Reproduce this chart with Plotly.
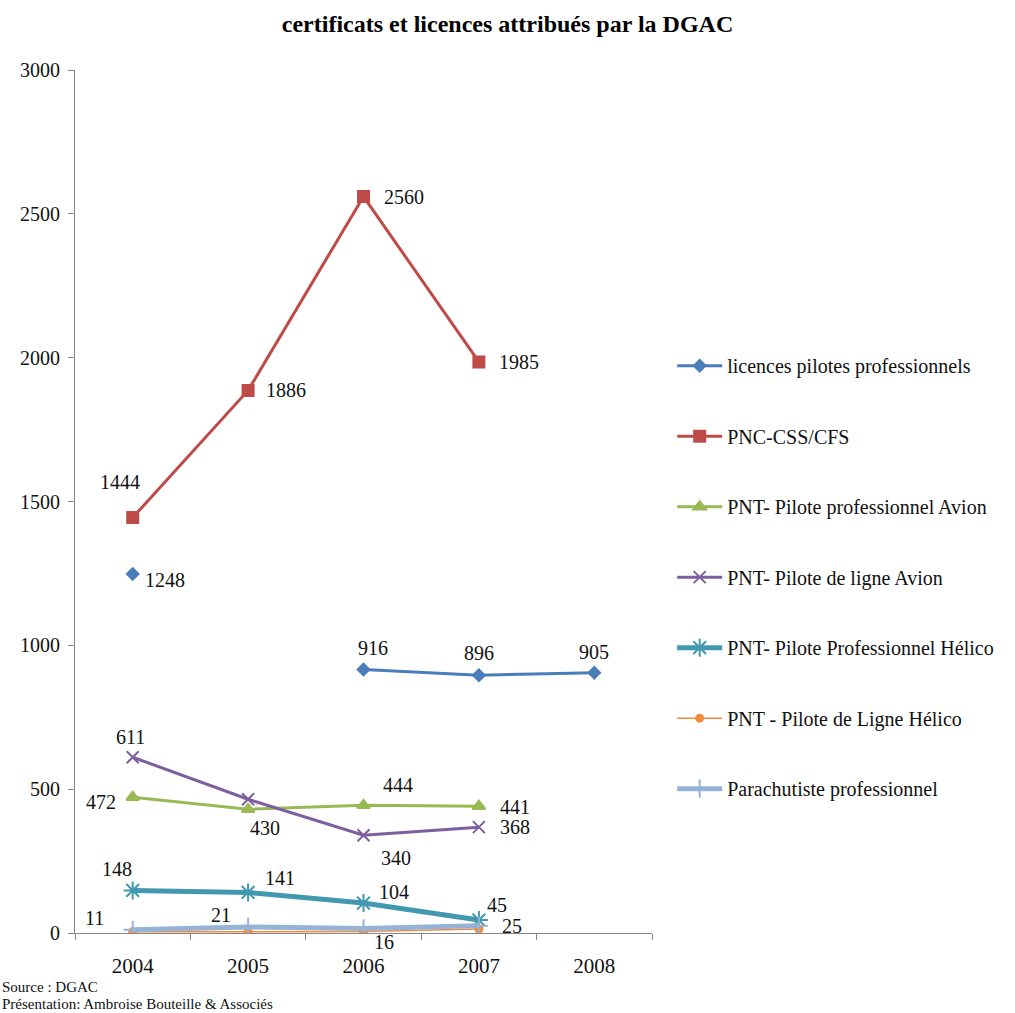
import plotly.graph_objects as go

years = ["2004", "2005", "2006", "2007", "2008"]

licences_pilotes = [1248, None, 916, 896, 905]
pnc_css_cfs = [1444, 1886, 2560, 1985, None]
pnt_pro_avion = [472, 430, 444, 441, None]
pnt_ligne_avion = [611, 465, 340, 368, None]
pnt_pro_helico = [148, 141, 104, 45, None]
pnt_ligne_helico = [4, 4, 5, 14, None]
parachutiste = [11, 21, 16, 25, None]

names = [
    "licences pilotes professionnels",
    "PNC-CSS/CFS",
    "PNT- Pilote professionnel Avion",
    "PNT- Pilote de ligne Avion",
    "PNT- Pilote Professionnel Hélico",
    "PNT - Pilote de Ligne Hélico",
    "Parachutiste professionnel",
]

FONT = "Liberation Serif"

series = [
    (names[0], licences_pilotes, "#4A7EBB", 3, "diamond", 9),
    (names[1], pnc_css_cfs, "#BE4B48", 3, "square", 11),
    (names[2], pnt_pro_avion, "#98B954", 3, "triangle-up", 11),
    (names[3], pnt_ligne_avion, "#7D5FA0", 3, "x-thin-open", 12),
    (names[4], pnt_pro_helico, "#4198AF", 5, "asterisk-open", 15),
    (names[5], pnt_ligne_helico, "#F38B3D", 1.5, "circle", 7),
    (names[6], parachutiste, "#95B3D7", 5, "cross-thin-open", 13),
]

fig = go.Figure()
for i, (nm, vals, col, lw, sym, ms) in enumerate(series):
    fig.add_trace(go.Scatter(
        x=years, y=vals, name=nm, mode="lines+markers",
        line=dict(color=col, width=lw),
        marker=dict(symbol=sym, size=ms, color=col, line=dict(color=col, width=2)),
        connectgaps=False, legendgroup=f"g{i}",
    ))

# data label offsets (pixels) per series/point
label_offsets = {
    1: {0: (-13, 36), 1: (38, 0), 2: (40, 0), 3: (40, 0)},
    0: {0: (32, -6), 2: (9, 22), 3: (0, 22), 4: (0, 21)},
    2: {0: (-32, -5), 1: (17, -19), 2: (34, 20), 3: (36, -1)},
    3: {0: (-2, 20), 2: (32, -23), 3: (36, 0)},
    4: {0: (-16, 21), 1: (32, 14), 2: (30, 11), 3: (18, 15)},
    6: {0: (-38, 12), 1: (-27, 12), 2: (20, -14), 3: (33, 0)},
}
for si, offs in label_offsets.items():
    vals = series[si][1]
    for pi, (dx, dy) in offs.items():
        fig.add_annotation(
            x=pi, y=vals[pi], xref="x", yref="y", text=str(vals[pi]), showarrow=False,
            xshift=dx, yshift=dy, font=dict(family=FONT, size=20, color="#111"),
        )

fig.add_annotation(
    xref="paper", yref="paper", x=-0.13, y=-0.063, xanchor="left", yanchor="middle",
    text="Source : DGAC", showarrow=False, align="left",
    font=dict(family=FONT, size=15, color="#111"),
)
fig.add_annotation(
    xref="paper", yref="paper", x=-0.13, y=-0.082, xanchor="left", yanchor="middle",
    text="Présentation: Ambroise Bouteille &amp; Associés", showarrow=False, align="left",
    font=dict(family=FONT, size=15, color="#111"),
)

fig.update_layout(
    width=1015, height=1013,
    paper_bgcolor="white", plot_bgcolor="white",
    margin=dict(l=75, r=363, t=70, b=80),
    title=dict(text="<b>certificats et licences attribués par la DGAC</b>",
               x=0.5, xref="container", xanchor="center", y=0.977, yanchor="middle",
               font=dict(family=FONT, size=24, color="#000")),
    font=dict(family=FONT, size=20, color="#111"),
    showlegend=True,
    legend=dict(x=1.035, y=0.68, xanchor="left", yanchor="top",
                font=dict(family=FONT, size=20, color="#111"),
                tracegroupgap=41.5, itemwidth=45, bgcolor="rgba(0,0,0,0)"),
    xaxis=dict(type="category", range=[-0.5, 4.5], showline=True, linecolor="#868686",
               linewidth=1, ticks="outside", tickson="boundaries", ticklen=6,
               tickcolor="#868686", showgrid=False, zeroline=False,
               ticklabelstandoff=14,
               tickfont=dict(family=FONT, size=21, color="#111")),
    yaxis=dict(range=[0, 3000], tickvals=[0, 500, 1000, 1500, 2000, 2500, 3000],
               showline=True, linecolor="#868686", linewidth=1, ticks="outside",
               ticklen=6, tickcolor="#868686", showgrid=False, zeroline=False,
               tickfont=dict(family=FONT, size=20, color="#111"), ticklabelstandoff=4),
)

fig.write_html("out.html", config={"displayModeBar": False},
               post_script="document.body.style.margin='0';document.body.style.overflow='hidden';")
